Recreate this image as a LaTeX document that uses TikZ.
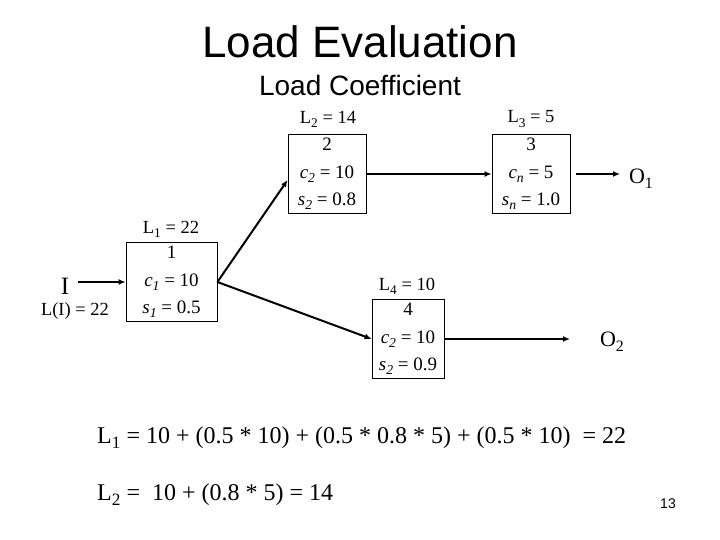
\documentclass[tikz,border=0pt]{standalone}
\usepackage{fontspec}
\setmainfont{Liberation Serif}
\newfontfamily\arialf{Liberation Sans}
\usetikzlibrary{arrows.meta,calc}
\makeatletter
\newcommand\sbx[1]{\raisebox{-0.22em}{\fontsize{\fpeval{0.72*\f@size}}{0}\selectfont#1}}
\makeatother
\begin{document}
\begin{tikzpicture}[x=1bp,y=-1bp,
  boxstyle/.style={draw,line width=0.8bp,inner sep=0pt,minimum height=79bp,align=center,font=\fontsize{19bp}{27.5bp}\selectfont},
  lbl/.style={inner sep=0pt,font=\fontsize{18.5bp}{20bp}\selectfont},
  conn/.style={line width=2bp,-{Latex[length=7bp,width=6bp]}},
  frm/.style={inner sep=0pt,anchor=west,font=\fontsize{24bp}{26bp}\selectfont}]
\useasboundingbox[fill=white] (0,0) rectangle (720,540);
% titles
\node[inner sep=0pt,font=\arialf\fontsize{44bp}{48bp}\selectfont] (title) at (360,42) {Load Evaluation};
\node[inner sep=0pt,font=\arialf\fontsize{28bp}{32bp}\selectfont] (sub) at (360,85) {Load Coefficient};
% boxes
\node[boxstyle,minimum width=91bp] (b1) at (171.5,282) {1\\\textit{c\sbx{1}} = 10\\\textit{s\sbx{1}} = 0.5};
\node[boxstyle,minimum width=78bp] (b2) at (327,174) {2\\\textit{c\sbx{2}} = 10\\\textit{s\sbx{2}} = 0.8};
\node[boxstyle,minimum width=78bp] (b3) at (531,174) {3\\\textit{c\sbx{n}} = 5\\\textit{s\sbx{n}} = 1.0};
\node[boxstyle,minimum width=72bp] (b4) at (408,339) {4\\\textit{c\sbx{2}} = 10\\\textit{s\sbx{2}} = 0.9};
% labels
\node[lbl] (l1) at (171,229) {L\sbx{1} = 22};
\node[lbl] (l2) at (328,119) {L\sbx{2} = 14};
\node[lbl] (l3) at (531,119) {L\sbx{3} = 5};
\node[lbl] (l4) at (407,286) {L\sbx{4} = 10};
\node[inner sep=0pt,font=\fontsize{25bp}{28bp}\selectfont] (in) at (65,286) {I};
\node[lbl] (li) at (75,311) {L(I) = 22};
\node[inner sep=0pt,font=\fontsize{22bp}{26bp}\selectfont] (o1) at (641,179) {O\sbx{1}};
\node[inner sep=0pt,font=\fontsize{22bp}{26bp}\selectfont] (o2) at (612,342) {O\sbx{2}};
% connectors
\coordinate (istart) at (78,282);
\coordinate (o1end) at (620,174);
\coordinate (o2end) at (570,339);
\draw[conn] (istart) -- (b1.west);
\draw[conn] (b1.east) -- ($(b2.west)+(0,6)$);
\draw[conn] (b1.east) -- (b4.west);
\draw[conn] (b2.east) -- (b3.west);
\draw[conn] (b3.east) ++(6,0) -- (o1end);
\draw[conn] (b4.east) -- (o2end);
% formulas
\node[frm] (f1) at (97,438) {L\sbx{1} = 10 + (0.5 * 10) + (0.5 * 0.8 * 5) + (0.5 * 10) \ = 22};
\node[frm] (f2) at (97,495) {L\sbx{2} = \ 10 + (0.8 * 5) = 14};
\node[inner sep=0pt,font=\arialf\fontsize{14bp}{16bp}\selectfont] (pg) at (668,504) {13};
\end{tikzpicture}
\end{document}
